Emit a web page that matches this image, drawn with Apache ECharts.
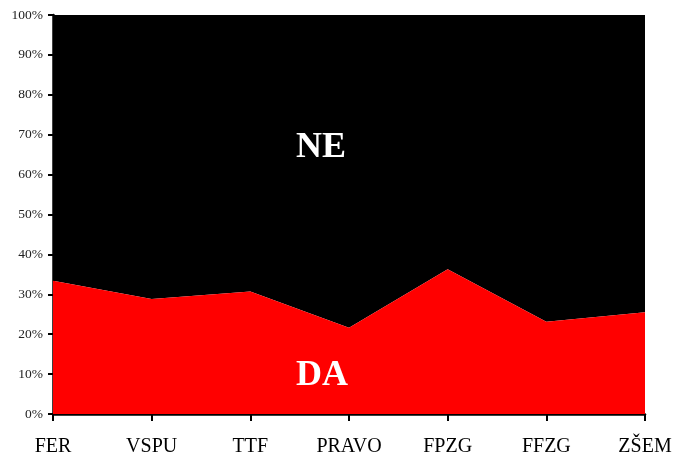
<!DOCTYPE html>
<html><head><meta charset="utf-8">
<script src="https://cdn.jsdelivr.net/npm/echarts@6/dist/echarts.min.js"></script>
<style>html,body{margin:0;padding:0;background:#fff}#c{width:675px;height:454px}</style>
</head><body><div id="c"></div>
<script>
const categories = ['FER','VSPU','TTF','PRAVO','FPZG','FFZG','ZŠEM'];
const daValues = [33.4, 28.8, 30.7, 21.6, 36.3, 23.1, 25.5];
const neValues = daValues.map(v => +(100 - v).toFixed(1));
const yTicks = [0,10,20,30,40,50,60,70,80,90,100];

const chart = echarts.init(document.getElementById('c'), null, {renderer:'canvas'});
chart.setOption({
  animation:false,
  backgroundColor:'#fff',
  grid:{left:53,right:30,top:15,bottom:40,containLabel:false,outerBoundsMode:'none'},
  xAxis:{type:'category',data:categories,boundaryGap:false,
    axisLine:{lineStyle:{color:'#000',width:2.5}},
    axisTick:{show:true,length:7,lineStyle:{color:'#000',width:2}},
    axisLabel:{color:'#000',fontFamily:'Liberation Serif',fontSize:20,margin:23,interval:0},
    splitLine:{show:false}},
  yAxis:{type:'value',min:0,max:100,interval:10,
    axisLine:{show:true,lineStyle:{color:'#000',width:2.5}},
    axisTick:{show:true,length:5,lineStyle:{color:'#000',width:2}},
    axisLabel:{color:'#222',fontFamily:'Liberation Serif',fontSize:13.5,margin:10,formatter:v=>v+'%'},
    splitLine:{show:false}},
  series:[
    {name:'DA',type:'line',stack:'t',data:daValues,symbol:'none',
     lineStyle:{width:0},areaStyle:{color:'#ff0000',opacity:1},z:2},
    {name:'NE',type:'line',stack:'t',data:neValues,symbol:'none',
     lineStyle:{width:0},areaStyle:{color:'#000000',opacity:1},z:1}
  ],
  graphic:[
    {type:'text',style:{text:'NE',x:321,y:148,fill:'#fff',font:'bold 36px "Liberation Serif"',textAlign:'center',textVerticalAlign:'middle'},z:100},
    {type:'text',style:{text:'DA',x:322,y:376,fill:'#fff',font:'bold 36px "Liberation Serif"',textAlign:'center',textVerticalAlign:'middle'},z:100}
  ]
});
</script></body></html>
